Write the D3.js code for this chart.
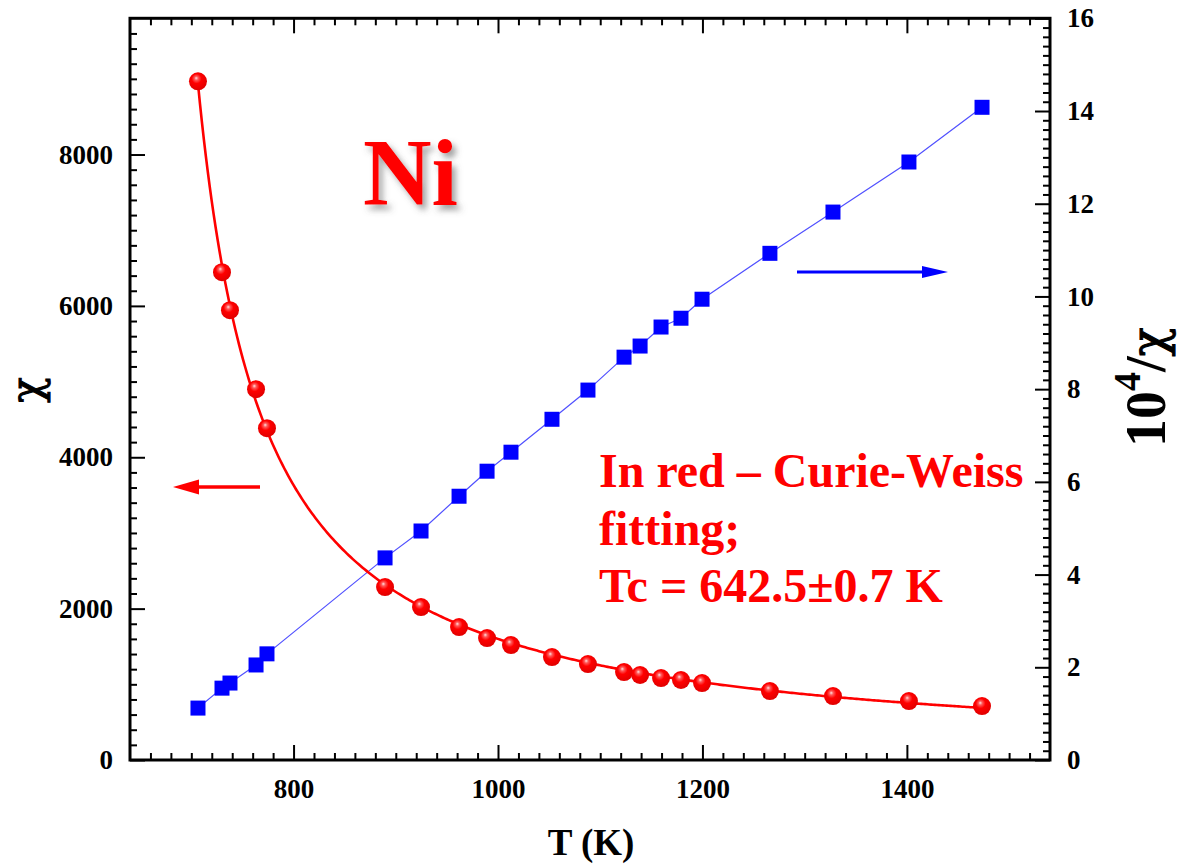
<!DOCTYPE html>
<html>
<head>
<meta charset="utf-8">
<script src="https://cdn.jsdelivr.net/npm/d3@7"></script>
<style>
  html, body { margin: 0; padding: 0; background: #fff; }
  svg { display: block; }
  text { font-family: "Liberation Serif", "Times New Roman", serif; font-weight: bold; }
  .greek { font-family: "DejaVu Serif", "Liberation Serif", serif; font-weight: normal; }
</style>
</head>
<body>
<svg id="chart" width="1178" height="865"></svg>
<script>
// Temperature (K) of each measurement
const temperature = [706.5, 730, 737.8, 763.3, 774, 889.5, 924.7, 961.9, 989.3, 1012.7, 1052.8,
  1088, 1123.3, 1139, 1159.5, 1179, 1199.6, 1266, 1327.7, 1402, 1473.5];
// Magnetic susceptibility chi (left axis)
const chi = [8968, 6446, 5944, 4900, 4385, 2285, 2021, 1757, 1611, 1519, 1360,
  1268, 1162, 1123, 1083, 1057, 1017, 911, 845, 779, 713];
// Inverse susceptibility 10^4/chi (right axis)
const invChi = [1.12, 1.55, 1.66, 2.05, 2.29, 4.36, 4.94, 5.69, 6.23, 6.64, 7.35,
  7.98, 8.69, 8.93, 9.34, 9.53, 9.94, 10.93, 11.82, 12.9, 14.08];

// Curie-Weiss fit parameters: chi = C / (T - Tc)
const curieTc = 642.5;
const curieC = 572000;

// Axis tick values
const xTicks = [800, 1000, 1200, 1400];
const yLeftTicks = [0, 2000, 4000, 6000, 8000];
const yRightTicks = [0, 2, 4, 6, 8, 10, 12, 14, 16];

const annotation = ["In red \u2013 Curie-Weiss", "fitting;", "Tc = 642.5\u00b10.7 K"];

const svg = d3.select("#chart");
const L = 130, R = 1050, T = 18.3, B = 760;

const x = d3.scaleLinear().domain([640, 1540]).range([L, R]);
const yL = d3.scaleLinear().domain([0, 9800]).range([B, T]);
const yR = d3.scaleLinear().domain([0, 16]).range([B, T]);

const defs = svg.append("defs");
const grad = defs.append("radialGradient").attr("id", "ball")
  .attr("cx", "45%").attr("cy", "40%").attr("r", "60%").attr("fx", "40%").attr("fy", "32%");
grad.append("stop").attr("offset", "0%").attr("stop-color", "#ffe0e0");
grad.append("stop").attr("offset", "18%").attr("stop-color", "#ff5a5a");
grad.append("stop").attr("offset", "45%").attr("stop-color", "#ff0000");
grad.append("stop").attr("offset", "100%").attr("stop-color", "#e00000");

const shadow = defs.append("filter").attr("id", "shadow")
  .attr("x", "-20%").attr("y", "-20%").attr("width", "150%").attr("height", "150%");
shadow.append("feDropShadow").attr("dx", 4).attr("dy", 5).attr("stdDeviation", 3)
  .attr("flood-color", "#555").attr("flood-opacity", 0.55);

function styleAxis(g) {
  g.select(".domain").remove();
  g.selectAll(".tick line").attr("stroke", "#000").attr("stroke-width", 2);
  g.selectAll("text").attr("font-size", 27).attr("fill", "#000")
    .style("font-family", "'Liberation Serif', 'Times New Roman', serif").style("font-weight", "bold");
}

// minor tick values
const xMinor = d3.range(660, 1540, 20).filter(v => v % 200 !== 0);
const yLMinor = d3.range(200, 9800, 200).filter(v => v % 2000 !== 0);
const yRMinor = d3.range(1, 80).map(i => i * 0.2).filter(v => Math.abs(v / 2 - Math.round(v / 2)) > 1e-6);

// bottom axis
svg.append("g").attr("transform", `translate(0,${B})`)
  .call(d3.axisBottom(x).tickValues(xTicks).tickSize(-15).tickPadding(19).tickFormat(d3.format("d")))
  .call(styleAxis);
svg.append("g").attr("transform", `translate(0,${B})`)
  .call(d3.axisBottom(x).tickValues(xMinor).tickSize(-7).tickFormat(""))
  .call(styleAxis);
// top axis (mirror)
svg.append("g").attr("transform", `translate(0,${T})`)
  .call(d3.axisTop(x).tickValues(xTicks).tickSize(-15).tickFormat(""))
  .call(styleAxis);
svg.append("g").attr("transform", `translate(0,${T})`)
  .call(d3.axisTop(x).tickValues(xMinor).tickSize(-7).tickFormat(""))
  .call(styleAxis);
// left axis
svg.append("g").attr("transform", `translate(${L},0)`)
  .call(d3.axisLeft(yL).tickValues(yLeftTicks).tickSize(-15).tickPadding(17).tickFormat(d3.format("d")))
  .call(styleAxis);
svg.append("g").attr("transform", `translate(${L},0)`)
  .call(d3.axisLeft(yL).tickValues(yLMinor).tickSize(-7).tickFormat(""))
  .call(styleAxis);
// right axis
svg.append("g").attr("transform", `translate(${R},0)`)
  .call(d3.axisRight(yR).tickValues(yRightTicks).tickSize(-15).tickPadding(17).tickFormat(d3.format("d")))
  .call(styleAxis);
svg.append("g").attr("transform", `translate(${R},0)`)
  .call(d3.axisRight(yR).tickValues(yRMinor).tickSize(-7).tickFormat(""))
  .call(styleAxis);

// frame
svg.append("rect").attr("x", L).attr("y", T).attr("width", R - L).attr("height", B - T)
  .attr("fill", "none").attr("stroke", "#000").attr("stroke-width", 3);

// 10^4/chi series
const blueLine = d3.line().x((d, i) => x(temperature[i])).y(d => yR(d));
svg.append("path").datum(invChi).attr("d", blueLine)
  .attr("fill", "none").attr("stroke", "#5050ff").attr("stroke-width", 1.2);
const sq = 15;
svg.append("g").selectAll("rect").data(invChi).join("rect")
  .attr("x", (d, i) => x(temperature[i]) - sq / 2)
  .attr("y", d => yR(d) - sq / 2)
  .attr("width", sq).attr("height", sq)
  .attr("fill", "#0000ff");

// Curie-Weiss fit curve over the measured range
const tMin = d3.min(temperature), tMax = d3.max(temperature);
const fitT = d3.range(0, 401).map(i => tMin + (tMax - tMin) * i / 400);
const fitLine = d3.line().x(t => x(t)).y(t => yL(curieC / (t - curieTc)));
svg.append("path").datum(fitT).attr("d", fitLine)
  .attr("fill", "none").attr("stroke", "#ff0000").attr("stroke-width", 2.6);

// chi data points
svg.append("g").selectAll("circle").data(chi).join("circle")
  .attr("cx", (d, i) => x(temperature[i]))
  .attr("cy", d => yL(d))
  .attr("r", 9)
  .attr("fill", "url(#ball)");

// axis titles
svg.append("text").attr("x", 591).attr("y", 855).attr("text-anchor", "middle")
  .attr("font-size", 37).attr("fill", "#000").text("T (K)");
svg.append("text").attr("class", "greek").attr("transform", "translate(41,390) rotate(-90)")
  .attr("text-anchor", "middle").attr("font-size", 42).attr("fill", "#000")
  .attr("stroke", "#000").attr("stroke-width", 1).text("\u03c7");
const rt = svg.append("text").attr("transform", "translate(1165,447) rotate(-90)")
  .attr("font-size", 56).attr("fill", "#000");
rt.append("tspan").text("10");
rt.append("tspan").attr("font-size", 38).attr("dy", -25).text("4");
rt.append("tspan").attr("dy", 25).text("/");
rt.append("tspan").attr("class", "greek").attr("font-size", 48)
  .attr("stroke", "#000").attr("stroke-width", 1).text("\u03c7");

// sample label
svg.append("text").attr("x", 363).attr("y", 205).attr("font-size", 95)
  .attr("fill", "#ff0000").attr("filter", "url(#shadow)").text("Ni");

// fit annotation
svg.append("g").selectAll("text").data(annotation).join("text")
  .attr("x", 599).attr("y", (d, i) => 487 + i * 57.5)
  .attr("font-size", 48).attr("fill", "#ff0000").text(d => d);

// direction arrows
function arrow(x0, x1, y, color, w, headLen, headHalf) {
  const dir = Math.sign(x1 - x0);
  svg.append("line").attr("x1", x0).attr("y1", y).attr("x2", x1 - dir * headLen + dir * 2).attr("y2", y)
    .attr("stroke", color).attr("stroke-width", w);
  svg.append("path")
    .attr("d", `M${x1},${y} L${x1 - dir * headLen},${y - headHalf} L${x1 - dir * headLen},${y + headHalf} Z`)
    .attr("fill", color);
}
arrow(260, 173, 487, "#ff0000", 3.5, 26, 7.5);
arrow(797, 948, 272, "#0000ff", 3, 26, 6);
</script>
</body>
</html>
